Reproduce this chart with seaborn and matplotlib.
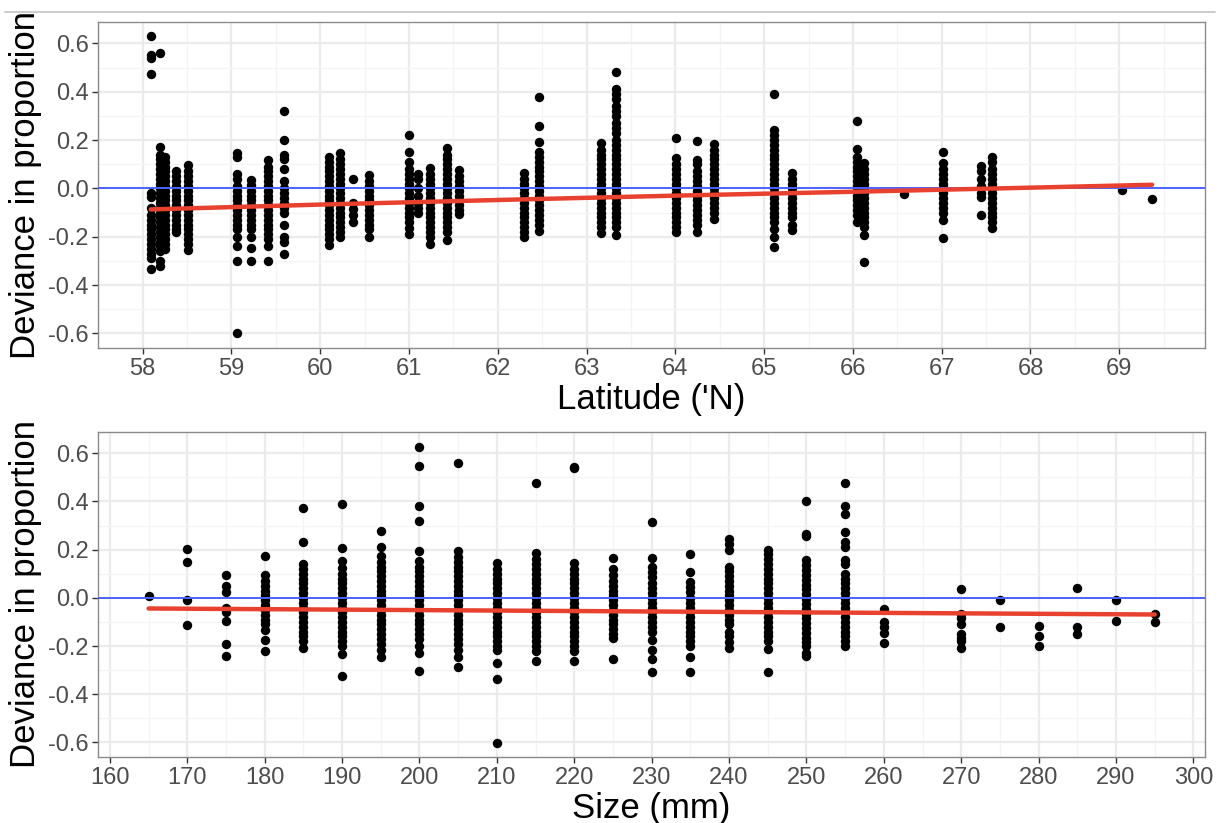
import matplotlib
matplotlib.use("Agg")
import matplotlib.pyplot as plt
from matplotlib.lines import Line2D
import seaborn as sns
import pandas as pd

# ---------------- data: top panel (latitude) ----------------
lat_cols = [58.09, 58.20, 58.25, 58.37, 58.51,
            59.06, 59.22, 59.41, 59.59,
            60.10, 60.22, 60.37, 60.55,
            61.00, 61.10, 61.24, 61.43, 61.56,
            62.29, 62.46, 63.16, 63.33,
            64.01, 64.24, 64.44, 65.11, 65.31,
            66.05, 66.13, 66.57, 67.01, 67.44, 67.57,
            69.03, 69.37]
lat_devs = [
    [0.63, 0.55, 0.54, 0.475, -0.02, -0.035, -0.08, -0.11, -0.13, -0.15, -0.17, -0.19, -0.21, -0.23, -0.25, -0.27, -0.29, -0.335],
    [0.56, 0.17, 0.14, 0.12, 0.1, 0.08, 0.06, 0.04, 0.02, 0.0, -0.02, -0.04, -0.06, -0.08, -0.1, -0.12, -0.14, -0.16, -0.18, -0.2, -0.22, -0.24, -0.26, -0.30, -0.32],
    [0.13, 0.11, 0.09, 0.07, 0.05, 0.03, 0.01, -0.01, -0.03, -0.05, -0.07, -0.09, -0.11, -0.13, -0.15, -0.17, -0.19, -0.21, -0.23, -0.25],
    [0.07, 0.05, 0.03, 0.01, -0.01, -0.03, -0.05, -0.07, -0.09, -0.11, -0.13, -0.15, -0.17, -0.18],
    [0.095, 0.07, 0.05, 0.03, 0.01, -0.01, -0.03, -0.05, -0.07, -0.09, -0.11, -0.13, -0.15, -0.17, -0.19, -0.21, -0.23, -0.255],
    [0.145, 0.13, 0.06, 0.04, 0.01, -0.01, -0.03, -0.05, -0.07, -0.09, -0.11, -0.13, -0.15, -0.17, -0.2, -0.24, -0.3, -0.6],
    [0.035, 0.015, -0.01, -0.03, -0.05, -0.07, -0.09, -0.11, -0.13, -0.15, -0.17, -0.2, -0.245, -0.3],
    [0.117, 0.09, 0.07, 0.05, 0.03, 0.01, -0.01, -0.03, -0.05, -0.07, -0.09, -0.11, -0.13, -0.15, -0.17, -0.19, -0.21, -0.24, -0.3],
    [0.32, 0.2, 0.14, 0.12, 0.08, 0.03, 0.0, -0.02, -0.04, -0.06, -0.08, -0.1, -0.15, -0.2, -0.22, -0.27],
    [0.13, 0.11, 0.09, 0.07, 0.05, 0.03, 0.01, -0.01, -0.03, -0.05, -0.07, -0.09, -0.11, -0.13, -0.15, -0.17, -0.19, -0.21, -0.235],
    [0.147, 0.12, 0.1, 0.08, 0.06, 0.04, 0.02, 0.0, -0.02, -0.04, -0.06, -0.08, -0.1, -0.12, -0.14, -0.16, -0.18, -0.2],
    [0.04, -0.06, -0.085, -0.11, -0.14],
    [0.055, 0.03, 0.01, -0.01, -0.03, -0.05, -0.07, -0.09, -0.11, -0.13, -0.15, -0.17, -0.2],
    [0.22, 0.15, 0.11, 0.08, 0.06, 0.04, 0.02, 0.0, -0.02, -0.04, -0.06, -0.08, -0.1, -0.12, -0.14, -0.165, -0.19],
    [0.06, 0.04, 0.0, -0.03, -0.06, -0.08, -0.1],
    [0.083, 0.06, 0.04, 0.02, 0.0, -0.02, -0.04, -0.06, -0.08, -0.1, -0.12, -0.14, -0.16, -0.18, -0.2, -0.228],
    [0.165, 0.14, 0.12, 0.1, 0.08, 0.06, 0.04, 0.02, 0.0, -0.02, -0.04, -0.06, -0.08, -0.1, -0.12, -0.14, -0.16, -0.18, -0.214],
    [0.076, 0.05, 0.03, 0.01, -0.01, -0.03, -0.05, -0.07, -0.09, -0.105],
    [0.062, 0.04, 0.02, 0.0, -0.02, -0.04, -0.06, -0.08, -0.1, -0.12, -0.14, -0.16, -0.18, -0.2],
    [0.38, 0.26, 0.19, 0.15, 0.13, 0.11, 0.09, 0.07, 0.05, 0.03, 0.01, -0.01, -0.03, -0.05, -0.07, -0.09, -0.11, -0.13, -0.15, -0.175],
    [0.186, 0.16, 0.14, 0.12, 0.1, 0.08, 0.06, 0.04, 0.02, 0.0, -0.02, -0.04, -0.06, -0.08, -0.1, -0.12, -0.14, -0.16, -0.186],
    [0.48, 0.41, 0.39, 0.37, 0.34, 0.32, 0.3, 0.27, 0.25, 0.23, 0.2, 0.18, 0.16, 0.14, 0.12, 0.1, 0.08, 0.06, 0.04, 0.02, 0.0, -0.02, -0.04, -0.06, -0.08, -0.1, -0.12, -0.14, -0.16, -0.193],
    [0.21, 0.124, 0.1, 0.08, 0.06, 0.04, 0.02, 0.0, -0.02, -0.04, -0.06, -0.08, -0.1, -0.12, -0.14, -0.16, -0.18],
    [0.197, 0.117, 0.1, 0.07, 0.05, 0.03, 0.01, -0.01, -0.03, -0.05, -0.07, -0.09, -0.11, -0.13, -0.15, -0.18],
    [0.182, 0.16, 0.14, 0.12, 0.1, 0.08, 0.06, 0.04, 0.02, 0.0, -0.02, -0.04, -0.06, -0.08, -0.1, -0.128],
    [0.39, 0.241, 0.22, 0.2, 0.18, 0.16, 0.14, 0.12, 0.1, 0.08, 0.06, 0.04, 0.02, 0.0, -0.02, -0.04, -0.06, -0.08, -0.1, -0.12, -0.14, -0.17, -0.2, -0.242],
    [0.062, 0.04, 0.02, 0.0, -0.02, -0.04, -0.06, -0.08, -0.1, -0.12, -0.15, -0.172],
    [0.279, 0.161, 0.13, 0.11, 0.09, 0.07, 0.05, 0.03, 0.01, -0.01, -0.03, -0.05, -0.07, -0.09, -0.11, -0.138],
    [0.103, 0.08, 0.06, 0.04, 0.02, 0.0, -0.02, -0.04, -0.06, -0.08, -0.1, -0.12, -0.14, -0.16, -0.193, -0.306],
    [-0.024],
    [0.152, 0.103, 0.08, 0.06, 0.04, 0.02, 0.0, -0.02, -0.04, -0.06, -0.08, -0.1, -0.131, -0.207],
    [0.094, 0.07, 0.04, 0.01, -0.02, -0.035, -0.11],
    [0.128, 0.11, 0.08, 0.06, 0.04, 0.02, 0.0, -0.02, -0.04, -0.06, -0.08, -0.1, -0.12, -0.14, -0.165],
    [-0.007],
    [-0.044],
]
lat_fit_x = [58.09, 60.0, 62.0, 64.0, 66.0, 68.0, 69.37]
lat_fit_y = [-0.087, -0.067, -0.048, -0.030, -0.014, 0.003, 0.015]

# ---------------- data: bottom panel (size) ----------------
size_cols = [165, 170, 175, 180, 185, 190, 195, 200, 205, 210, 215, 220, 225,
             230, 235, 240, 245, 250, 255, 260, 270, 275, 280, 285, 290, 295]
size_devs = [
    [0.007],
    [0.202, 0.148, -0.01, -0.113],
    [0.094, 0.05, 0.025, -0.04, -0.06, -0.095, -0.19, -0.24],
    [0.174, 0.094, 0.07, 0.05, 0.03, 0.01, -0.01, -0.03, -0.05, -0.07, -0.09, -0.11, -0.134, -0.175, -0.219],
    [0.372, 0.233, 0.139, 0.12, 0.1, 0.08, 0.06, 0.04, 0.02, 0.0, -0.02, -0.04, -0.06, -0.08, -0.1, -0.12, -0.14, -0.16, -0.18, -0.21],
    [0.389, 0.206, 0.153, 0.122, 0.1, 0.08, 0.06, 0.04, 0.02, 0.0, -0.02, -0.04, -0.06, -0.08, -0.1, -0.12, -0.14, -0.16, -0.18, -0.2, -0.234, -0.324],
    [0.277, 0.211, 0.175, 0.149, 0.13, 0.11, 0.09, 0.07, 0.05, 0.03, 0.01, -0.01, -0.03, -0.05, -0.07, -0.09, -0.11, -0.13, -0.15, -0.17, -0.19, -0.216, -0.246],
    [0.628, 0.549, 0.38, 0.317, 0.193, 0.153, 0.13, 0.11, 0.09, 0.07, 0.05, 0.03, 0.01, -0.01, -0.03, -0.05, -0.07, -0.09, -0.11, -0.13, -0.15, -0.17, -0.2, -0.228, -0.303],
    [0.56, 0.195, 0.17, 0.15, 0.13, 0.11, 0.09, 0.07, 0.05, 0.03, 0.01, -0.01, -0.03, -0.05, -0.07, -0.09, -0.11, -0.13, -0.15, -0.17, -0.19, -0.216, -0.244, -0.285],
    [0.145, 0.12, 0.1, 0.08, 0.06, 0.04, 0.02, 0.0, -0.02, -0.04, -0.06, -0.08, -0.1, -0.12, -0.14, -0.16, -0.18, -0.2, -0.216, -0.271, -0.338, -0.602],
    [0.476, 0.186, 0.16, 0.14, 0.12, 0.1, 0.08, 0.06, 0.04, 0.02, 0.0, -0.02, -0.04, -0.06, -0.08, -0.1, -0.12, -0.14, -0.16, -0.18, -0.2, -0.22, -0.26],
    [0.545, 0.54, 0.145, 0.12, 0.1, 0.08, 0.06, 0.04, 0.02, 0.0, -0.02, -0.04, -0.06, -0.08, -0.1, -0.12, -0.14, -0.16, -0.18, -0.2, -0.22, -0.26],
    [0.167, 0.12, 0.094, 0.07, 0.05, 0.03, 0.01, -0.01, -0.03, -0.05, -0.07, -0.09, -0.11, -0.13, -0.15, -0.168, -0.255],
    [0.316, 0.167, 0.13, 0.108, 0.085, 0.06, 0.04, 0.02, 0.0, -0.02, -0.04, -0.06, -0.08, -0.1, -0.12, -0.14, -0.175, -0.216, -0.255, -0.309],
    [0.181, 0.108, 0.066, 0.045, 0.025, 0.0, -0.02, -0.04, -0.06, -0.08, -0.1, -0.12, -0.14, -0.16, -0.18, -0.2, -0.245, -0.309],
    [0.246, 0.225, 0.2, 0.128, 0.11, 0.09, 0.07, 0.05, 0.03, 0.01, -0.01, -0.03, -0.05, -0.07, -0.09, -0.11, -0.14, -0.16, -0.182, -0.21],
    [0.197, 0.18, 0.16, 0.14, 0.12, 0.1, 0.08, 0.06, 0.04, 0.02, 0.0, -0.02, -0.04, -0.06, -0.08, -0.1, -0.12, -0.14, -0.16, -0.18, -0.213, -0.306],
    [0.40, 0.264, 0.258, 0.156, 0.135, 0.115, 0.095, 0.075, 0.055, 0.035, 0.015, -0.005, -0.025, -0.045, -0.065, -0.085, -0.105, -0.125, -0.145, -0.165, -0.185, -0.2, -0.23, -0.24],
    [0.478, 0.38, 0.35, 0.273, 0.23, 0.21, 0.159, 0.14, 0.101, 0.08, 0.06, 0.04, 0.02, 0.0, -0.02, -0.04, -0.06, -0.08, -0.1, -0.12, -0.14, -0.16, -0.18, -0.2],
    [-0.048, -0.099, -0.12, -0.147, -0.186],
    [0.035, -0.065, -0.085, -0.11, -0.15, -0.165, -0.18, -0.21],
    [-0.009, -0.12],
    [-0.116, -0.158, -0.2],
    [0.043, -0.12, -0.15],
    [-0.01, -0.098],
    [-0.065, -0.102],
]
size_fit_x = [165, 295]
size_fit_y = [-0.044, -0.069]

# ---------------- ticks / labels ----------------
lat_ticks = list(range(58, 70))
lat_minor = [57.5 + i for i in range(13)]
size_ticks = list(range(160, 301, 10))
size_minor = list(range(165, 301, 10))
dev_ticks = [-0.6, -0.4, -0.2, 0.0, 0.2, 0.4, 0.6]
dev_labels = ["-0.6", "-0.4", "-0.2", "0.0", "0.2", "0.4", "0.6"]
dev_minor = [-0.5, -0.3, -0.1, 0.1, 0.3, 0.5]
ylabel = "Deviance in proportion"
top_xlabel = "Latitude ('N)"
bottom_xlabel = "Size (mm)"


def expand(cols, devs, xname):
    xs, ys = [], []
    for c, d in zip(cols, devs):
        for v in d:
            xs.append(c)
            ys.append(v)
    return pd.DataFrame({xname: xs, "dev": ys})


df_lat = expand(lat_cols, lat_devs, "lat")
df_size = expand(size_cols, size_devs, "size")
fit_lat = pd.DataFrame({"lat": lat_fit_x, "dev": lat_fit_y})
fit_size = pd.DataFrame({"size": size_fit_x, "dev": size_fit_y})

sns.set_theme(style="white")
plt.rcParams["font.family"] = ["Liberation Sans", "DejaVu Sans"]
plt.rcParams["axes.unicode_minus"] = False

W, H = 1222, 823
fig = plt.figure(figsize=(W / 100, H / 100), dpi=100)
fig.patch.set_facecolor("white")

# separator line at top
fig.add_artist(Line2D([5 / W, 1215 / W], [1 - 11.5 / H, 1 - 11.5 / H],
                      color="#C8C8C8", lw=1.3))

ax1 = fig.add_axes([98.3 / W, 1 - 348.3 / H, (1205 - 98.3) / W, (348.3 - 21.7) / H])
ax2 = fig.add_axes([98.3 / W, 1 - 757.3 / H, (1205 - 98.3) / W, (757.3 - 431.7) / H])


def style_axes(ax, xt, xminor, xlim, xlabel):
    ax.set_facecolor("white")
    ax.set_xlim(*xlim)
    ax.set_ylim(-0.6615, 0.6895)
    ax.set_xticks(xt)
    ax.set_xticklabels([str(t) for t in xt])
    ax.set_xticks(xminor, minor=True)
    ax.set_yticks(dev_ticks)
    ax.set_yticklabels(dev_labels)
    ax.set_yticks(dev_minor, minor=True)
    ax.grid(which="major", color="#EBEBEB", lw=1.6, zorder=0)
    ax.grid(which="minor", color="#F4F4F4", lw=0.9, zorder=0)
    ax.set_axisbelow(True)
    ax.tick_params(which="major", direction="out", length=4, width=1,
                   color="#333333", labelsize=17, labelcolor="#4D4D4D", pad=3,
                   bottom=True, left=True)
    ax.tick_params(which="minor", length=0)
    for s in ax.spines.values():
        s.set_visible(True)
        s.set_color("#8A8A8A")
        s.set_linewidth(1.0)


style_axes(ax1, lat_ticks, lat_minor, (57.5039, 69.9661), top_xlabel)
style_axes(ax2, size_ticks, size_minor, (158.5, 301.5), bottom_xlabel)

for ax, df, fit, xname, xl in [(ax1, df_lat, fit_lat, "lat", top_xlabel),
                               (ax2, df_size, fit_size, "size", bottom_xlabel)]:
    sns.scatterplot(data=df, x=xname, y="dev", ax=ax, color="black", s=46,
                    linewidth=0, zorder=3, legend=False)
    ax.axhline(0, color="#4C62FF", lw=1.4, zorder=4)
    sns.lineplot(data=fit, x=xname, y="dev", ax=ax, color="#E8412F", lw=3.2,
                 zorder=5, legend=False)
    ax.set_xlabel(xl, fontsize=25, color="black", labelpad=2)
    ax.set_ylabel(ylabel, fontsize=25, color="black", labelpad=4)

fig.savefig("out.png", dpi=100, facecolor="white")
